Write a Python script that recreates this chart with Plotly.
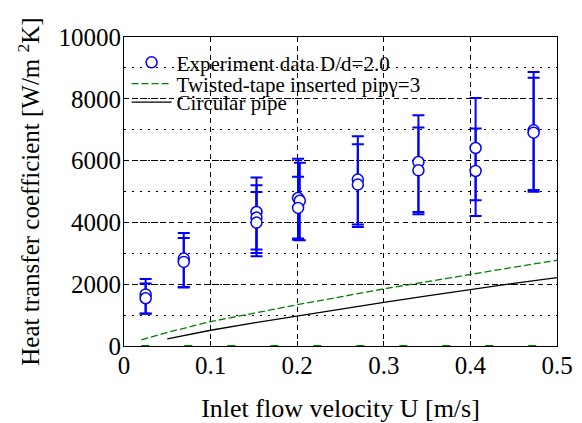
import plotly.graph_objects as go

# ---- data ----
exp_u = [0.025, 0.025, 0.069, 0.069, 0.153, 0.153, 0.153, 0.201, 0.203, 0.201,
         0.270, 0.270, 0.340, 0.340, 0.406, 0.406, 0.473, 0.473]
exp_h = [1670, 1545, 2828, 2720, 4337, 4155, 3993, 4790, 4700, 4470,
         5385, 5223, 5955, 5686, 6408, 5664, 6979, 6904]
exp_hi = [2170, 2020, 3657, 3495, 5450, 5201, 4984, 6060, 5930, 5480,
          6786, 6528, 7466, 7068, 8026, 7035, 8867, 8684]
exp_lo = [1050, 1040, 1910, 1890, 3120, 3010, 2903, 3480, 3420, 3440,
          3929, 3851, 4337, 4262, 4715, 4207, 5049, 4994]

tape_u = [0.02, 0.05, 0.10, 0.15, 0.20, 0.25, 0.30, 0.35, 0.40, 0.45, 0.50]
tape_h = [200, 440, 790, 1070, 1335, 1590, 1850, 2080, 2320, 2550, 2775]

pipe_u = [0.05, 0.10, 0.15, 0.20, 0.25, 0.30, 0.35, 0.40, 0.45, 0.50]
pipe_h = [230, 510, 750, 975, 1195, 1410, 1620, 1830, 2025, 2215]

base_u = [0.02, 0.50]
base_h = [0, 0]

x_ticks = [0, 0.1, 0.2, 0.3, 0.4, 0.5]
x_tick_text = ["0", "0.1", "0.2", "0.3", "0.4", "0.5"]
y_ticks = [0, 2000, 4000, 6000, 8000, 10000]
y_tick_text = ["0", "2000", "4000", "6000", "8000", "10000"]

FONT = "Liberation Serif"
BLUE = "#0000ff"
GREEN = "#008000"

err_plus = [hi - h for hi, h in zip(exp_hi, exp_h)]
err_minus = [h - lo for h, lo in zip(exp_h, exp_lo)]

fig = go.Figure()

fig.add_trace(go.Scatter(
    x=base_u, y=base_h, mode="lines", showlegend=False,
    line=dict(color=GREEN, width=2, dash="8px,35px"), hoverinfo="skip"))

fig.add_trace(go.Scatter(
    x=tape_u, y=tape_h, mode="lines", name="Twisted-tape inserted pipγ=3",
    line=dict(color=GREEN, width=1.3, dash="7px,3px"), legend="legend2"))

fig.add_trace(go.Scatter(
    x=pipe_u, y=pipe_h, mode="lines", name="Circular pipe",
    line=dict(color="black", width=1.3), legend="legend3"))

fig.add_trace(go.Scatter(
    x=exp_u, y=exp_h, mode="markers", name="Experiment data D/d=2.0",
    marker=dict(symbol="circle", size=11, color="white",
                line=dict(color=BLUE, width=1.5)),
    error_y=dict(type="data", array=err_plus, arrayminus=err_minus,
                 color=BLUE, thickness=2, width=6),
    legend="legend"))

leg_common = dict(bgcolor="rgba(0,0,0,0)", borderwidth=0,
                  font=dict(family=FONT, size=21, color="black"),
                  xanchor="left", yanchor="middle", itemwidth=40,
                  x=0.006)

fig.update_layout(
    width=574, height=415,
    margin=dict(l=116, r=25, t=29, b=77),
    paper_bgcolor="white", plot_bgcolor="white",
    font=dict(family=FONT, size=25, color="black"),
    legend=dict(**leg_common, y=0.917),
    legend2=dict(**leg_common, y=0.848),
    legend3=dict(**leg_common, y=0.788),
    xaxis=dict(
        range=[0, 0.5], tickvals=x_ticks, ticktext=x_tick_text,
        automargin=False,
        showline=True, linecolor="black", linewidth=1, mirror=True,
        ticks="inside", ticklen=5, tickcolor="black",
        ticklabelstandoff=-3,
        showgrid=True, gridcolor="black", gridwidth=1, griddash="5px,4px",
        zeroline=False,
        tickfont=dict(family=FONT, size=25),
        title=dict(text="Inlet flow velocity U [m/s]", standoff=25,
                   font=dict(family=FONT, size=26)),
    ),
    yaxis=dict(
        range=[0, 10000], tickvals=y_ticks, ticktext=y_tick_text,
        automargin=False,
        showline=True, linecolor="black", linewidth=1, mirror=True,
        ticks="inside", ticklen=5, tickcolor="black",
        ticklabelstandoff=-3,
        showgrid=True, gridcolor="black", gridwidth=1, griddash="5px,4px",
        zeroline=False,
        tickfont=dict(family=FONT, size=25),
        minor=dict(dtick=1000, showgrid=True, gridcolor="black", gridwidth=1,
                   griddash="2px,6px", ticks=""),
        title=dict(text="Heat transfer coefficient [W/m <sup>2</sup>K]",
                   standoff=11, font=dict(family=FONT, size=25)),
    ),
)

fig.write_html("out.html")
